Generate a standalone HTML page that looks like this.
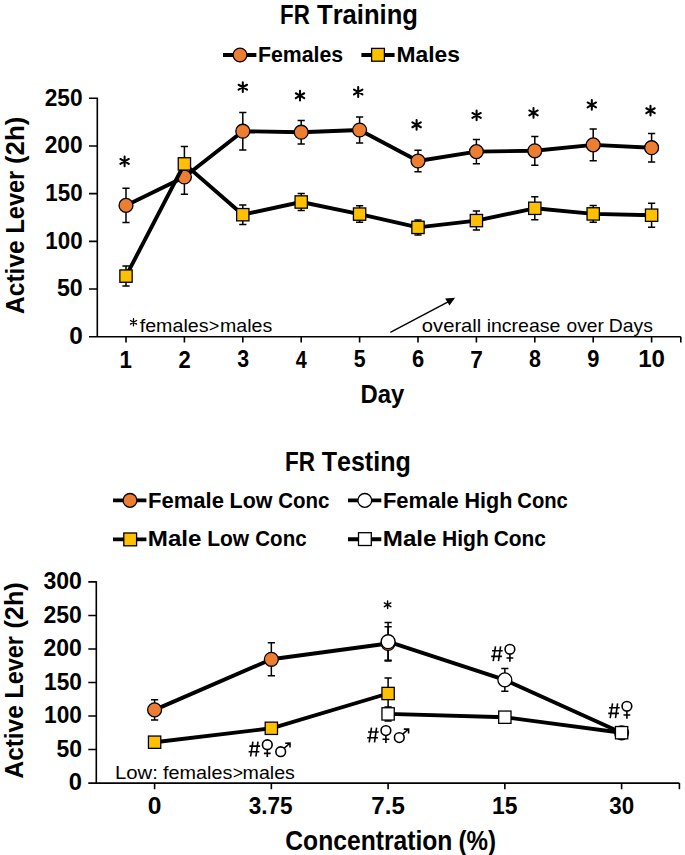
<!DOCTYPE html>
<html><head><meta charset="utf-8"><style>
html,body{margin:0;padding:0;background:#fff;}
body{width:685px;height:855px;overflow:hidden;}
svg{display:block;}
text{font-family:"Liberation Sans",sans-serif;font-size:100px;font-kerning:none;}
</style></head><body>
<svg width="685" height="855" viewBox="0 0 685 855">
<rect width="685" height="855" fill="#fff"/>
<text transform="matrix(0.2232 0 0 0.2704 280.11 24.00)" style="font-weight:bold" fill="#000">FR</text><text transform="matrix(0.2561 0 0 0.2704 317.01 24.00)" style="font-weight:bold" fill="#000">Training</text>
<path d="M223 55H256.4" stroke="#000" stroke-width="3.9"/>
<circle cx="240.00" cy="55.00" r="6.90" fill="#ED7D31" stroke="#000" stroke-width="1.30"/>
<text transform="matrix(0.2131 0 0 0.2209 257.97 61.60)" style="font-weight:bold" fill="#000">Females</text>
<path d="M361.4 55H394.6" stroke="#000" stroke-width="3.9"/>
<rect x="371.60" y="48.40" width="12.80" height="12.80" fill="#FFC000" stroke="#000" stroke-width="1.30"/>
<text transform="matrix(0.2283 0 0 0.2209 396.47 61.60)" style="font-weight:bold" fill="#000">Males</text>
<text transform="translate(24.40 313.30) rotate(-90) matrix(0.2454 0 0 0.2660 -0.61 0)" style="font-weight:bold">Active</text><text transform="translate(24.40 232.00) rotate(-90) matrix(0.2355 0 0 0.2660 -1.58 0)" style="font-weight:bold">Lever</text><text transform="translate(24.40 162.80) rotate(-90) matrix(0.2585 0 0 0.2660 -1.29 0)" style="font-weight:bold">(2h)</text>
<path d="M97.30 97.55V336.70M89 336.7H680.8M89 336.70H97.30M89 289.02H97.30M89 241.34H97.30M89 193.66H97.30M89 145.98H97.30M89 98.30H97.30M126.00 336.7V342.6M184.40 336.7V342.6M242.80 336.7V342.6M301.20 336.7V342.6M359.60 336.7V342.6M418.00 336.7V342.6M476.40 336.7V342.6M534.80 336.7V342.6M593.20 336.7V342.6M651.60 336.7V342.6M680.8 336.7V342.6" stroke="#000" stroke-width="1.6" fill="none"/>
<text transform="matrix(0.2439 0 0 0.2458 69.14 343.96)" style="font-weight:bold" fill="#000">0</text>
<text transform="matrix(0.2316 0 0 0.2458 56.89 296.28)" style="font-weight:bold" fill="#000">50</text>
<text transform="matrix(0.2237 0 0 0.2458 45.29 248.60)" style="font-weight:bold" fill="#000">100</text>
<text transform="matrix(0.2237 0 0 0.2458 45.29 200.92)" style="font-weight:bold" fill="#000">150</text>
<text transform="matrix(0.2273 0 0 0.2458 44.71 153.24)" style="font-weight:bold" fill="#000">200</text>
<text transform="matrix(0.2273 0 0 0.2458 44.71 105.56)" style="font-weight:bold" fill="#000">250</text>
<text transform="matrix(0.2235 0 0 0.2471 119.59 367.60)" style="font-weight:bold" fill="#000">1</text>
<text transform="matrix(0.2202 0 0 0.2435 178.54 367.60)" style="font-weight:bold" fill="#000">2</text>
<text transform="matrix(0.2132 0 0 0.2396 237.21 367.33)" style="font-weight:bold" fill="#000">3</text>
<text transform="matrix(0.1979 0 0 0.2471 295.80 367.60)" style="font-weight:bold" fill="#000">4</text>
<text transform="matrix(0.2130 0 0 0.2436 353.84 367.36)" style="font-weight:bold" fill="#000">5</text>
<text transform="matrix(0.2193 0 0 0.2401 412.10 367.37)" style="font-weight:bold" fill="#000">6</text>
<text transform="matrix(0.2259 0 0 0.2471 470.33 367.60)" style="font-weight:bold" fill="#000">7</text>
<text transform="matrix(0.2147 0 0 0.2401 529.02 367.37)" style="font-weight:bold" fill="#000">8</text>
<text transform="matrix(0.2188 0 0 0.2401 587.34 367.37)" style="font-weight:bold" fill="#000">9</text>
<text transform="matrix(0.2410 0 0 0.2401 638.13 367.37)" style="font-weight:bold" fill="#000">10</text>
<text transform="matrix(0.2389 0 0 0.2587 360.50 402.90)" style="font-weight:bold" fill="#000">Day</text>
<path d="M133.50 318.75L133.50 325.85M130.43 320.53L136.57 324.07M130.43 324.07L136.57 320.53" stroke="#000" stroke-width="1.30" stroke-linecap="round" fill="none"/>
<text transform="matrix(0.1965 0 0 0.1890 139.72 332.40)" style="font-weight:normal" fill="#000">females</text><text transform="matrix(0.1811 0 0 0.1890 208.71 332.40)" style="font-weight:normal" fill="#000">&gt;</text><text transform="matrix(0.1957 0 0 0.1890 220.00 332.40)" style="font-weight:normal" fill="#000">males</text>
<text transform="matrix(0.2020 0 0 0.1875 421.85 332.00)" style="font-weight:normal" fill="#000">overall</text><text transform="matrix(0.1952 0 0 0.1875 486.69 332.00)" style="font-weight:normal" fill="#000">increase</text><text transform="matrix(0.1919 0 0 0.1875 566.49 332.00)" style="font-weight:normal" fill="#000">over</text><text transform="matrix(0.1940 0 0 0.1875 608.81 332.00)" style="font-weight:normal" fill="#000">Days</text>
<path d="M390.3 332.3L450 300.8" stroke="#000" stroke-width="1.4"/>
<path d="M455.1 297.8L445.1 298.4L449.5 305.5Z" fill="#000"/>
<path d="M126.00 188.30L126.00 222.50M122.40 188.30L129.60 188.30M122.40 222.50L129.60 222.50" stroke="#000" stroke-width="1.50" fill="none"/>
<path d="M184.40 159.80L184.40 194.20M180.80 159.80L188.00 159.80M180.80 194.20L188.00 194.20" stroke="#000" stroke-width="1.50" fill="none"/>
<path d="M242.80 112.40L242.80 150.00M239.20 112.40L246.40 112.40M239.20 150.00L246.40 150.00" stroke="#000" stroke-width="1.50" fill="none"/>
<path d="M301.20 120.40L301.20 144.00M297.60 120.40L304.80 120.40M297.60 144.00L304.80 144.00" stroke="#000" stroke-width="1.50" fill="none"/>
<path d="M359.60 117.10L359.60 142.90M356.00 117.10L363.20 117.10M356.00 142.90L363.20 142.90" stroke="#000" stroke-width="1.50" fill="none"/>
<path d="M418.00 150.30L418.00 171.70M414.40 150.30L421.60 150.30M414.40 171.70L421.60 171.70" stroke="#000" stroke-width="1.50" fill="none"/>
<path d="M476.40 139.50L476.40 163.70M472.80 139.50L480.00 139.50M472.80 163.70L480.00 163.70" stroke="#000" stroke-width="1.50" fill="none"/>
<path d="M534.80 136.40L534.80 165.20M531.20 136.40L538.40 136.40M531.20 165.20L538.40 165.20" stroke="#000" stroke-width="1.50" fill="none"/>
<path d="M593.20 129.05L593.20 160.75M589.60 129.05L596.80 129.05M589.60 160.75L596.80 160.75" stroke="#000" stroke-width="1.50" fill="none"/>
<path d="M651.60 133.50L651.60 161.90M648.00 133.50L655.20 133.50M648.00 161.90L655.20 161.90" stroke="#000" stroke-width="1.50" fill="none"/>
<path d="M126.00 266.10L126.00 286.10M122.40 266.10L129.60 266.10M122.40 286.10L129.60 286.10" stroke="#000" stroke-width="1.50" fill="none"/>
<path d="M184.40 146.50L184.40 181.30M180.80 146.50L188.00 146.50M180.80 181.30L188.00 181.30" stroke="#000" stroke-width="1.50" fill="none"/>
<path d="M242.80 204.95L242.80 224.45M239.20 204.95L246.40 204.95M239.20 224.45L246.40 224.45" stroke="#000" stroke-width="1.50" fill="none"/>
<path d="M301.20 193.45L301.20 210.55M297.60 193.45L304.80 193.45M297.60 210.55L304.80 210.55" stroke="#000" stroke-width="1.50" fill="none"/>
<path d="M359.60 205.85L359.60 222.35M356.00 205.85L363.20 205.85M356.00 222.35L363.20 222.35" stroke="#000" stroke-width="1.50" fill="none"/>
<path d="M418.00 219.90L418.00 234.90M414.40 219.90L421.60 219.90M414.40 234.90L421.60 234.90" stroke="#000" stroke-width="1.50" fill="none"/>
<path d="M476.40 211.10L476.40 230.10M472.80 211.10L480.00 211.10M472.80 230.10L480.00 230.10" stroke="#000" stroke-width="1.50" fill="none"/>
<path d="M534.80 196.80L534.80 219.80M531.20 196.80L538.40 196.80M531.20 219.80L538.40 219.80" stroke="#000" stroke-width="1.50" fill="none"/>
<path d="M593.20 205.50L593.20 222.30M589.60 205.50L596.80 205.50M589.60 222.30L596.80 222.30" stroke="#000" stroke-width="1.50" fill="none"/>
<path d="M651.60 203.20L651.60 227.20M648.00 203.20L655.20 203.20M648.00 227.20L655.20 227.20" stroke="#000" stroke-width="1.50" fill="none"/>
<polyline points="126.00,205.40 184.40,177.00 242.80,131.20 301.20,132.20 359.60,130.00 418.00,161.00 476.40,151.60 534.80,150.80 593.20,144.90 651.60,147.70" fill="none" stroke="#000" stroke-width="3.90" stroke-linejoin="round"/>
<circle cx="126.00" cy="205.40" r="6.95" fill="#ED7D31" stroke="#000" stroke-width="1.30"/>
<circle cx="184.40" cy="177.00" r="6.95" fill="#ED7D31" stroke="#000" stroke-width="1.30"/>
<circle cx="242.80" cy="131.20" r="6.95" fill="#ED7D31" stroke="#000" stroke-width="1.30"/>
<circle cx="301.20" cy="132.20" r="6.95" fill="#ED7D31" stroke="#000" stroke-width="1.30"/>
<circle cx="359.60" cy="130.00" r="6.95" fill="#ED7D31" stroke="#000" stroke-width="1.30"/>
<circle cx="418.00" cy="161.00" r="6.95" fill="#ED7D31" stroke="#000" stroke-width="1.30"/>
<circle cx="476.40" cy="151.60" r="6.95" fill="#ED7D31" stroke="#000" stroke-width="1.30"/>
<circle cx="534.80" cy="150.80" r="6.95" fill="#ED7D31" stroke="#000" stroke-width="1.30"/>
<circle cx="593.20" cy="144.90" r="6.95" fill="#ED7D31" stroke="#000" stroke-width="1.30"/>
<circle cx="651.60" cy="147.70" r="6.95" fill="#ED7D31" stroke="#000" stroke-width="1.30"/>
<polyline points="126.00,276.10 184.40,163.90 242.80,214.70 301.20,202.00 359.60,214.10 418.00,227.40 476.40,220.60 534.80,208.30 593.20,213.90 651.60,215.20" fill="none" stroke="#000" stroke-width="3.90" stroke-linejoin="round"/>
<rect x="119.85" y="269.95" width="12.30" height="12.30" fill="#FFC000" stroke="#000" stroke-width="1.30"/>
<rect x="178.25" y="157.75" width="12.30" height="12.30" fill="#FFC000" stroke="#000" stroke-width="1.30"/>
<rect x="236.65" y="208.55" width="12.30" height="12.30" fill="#FFC000" stroke="#000" stroke-width="1.30"/>
<rect x="295.05" y="195.85" width="12.30" height="12.30" fill="#FFC000" stroke="#000" stroke-width="1.30"/>
<rect x="353.45" y="207.95" width="12.30" height="12.30" fill="#FFC000" stroke="#000" stroke-width="1.30"/>
<rect x="411.85" y="221.25" width="12.30" height="12.30" fill="#FFC000" stroke="#000" stroke-width="1.30"/>
<rect x="470.25" y="214.45" width="12.30" height="12.30" fill="#FFC000" stroke="#000" stroke-width="1.30"/>
<rect x="528.65" y="202.15" width="12.30" height="12.30" fill="#FFC000" stroke="#000" stroke-width="1.30"/>
<rect x="587.05" y="207.75" width="12.30" height="12.30" fill="#FFC000" stroke="#000" stroke-width="1.30"/>
<rect x="645.45" y="209.05" width="12.30" height="12.30" fill="#FFC000" stroke="#000" stroke-width="1.30"/>
<path d="M124.60 156.53L124.60 166.28M120.38 158.96L128.82 163.84M120.38 163.84L128.82 158.96" stroke="#000" stroke-width="2.05" stroke-linecap="round" fill="none"/>
<path d="M242.80 82.33L242.80 92.08M238.58 84.76L247.02 89.64M238.58 89.64L247.02 84.76" stroke="#000" stroke-width="2.05" stroke-linecap="round" fill="none"/>
<path d="M300.00 90.83L300.00 100.58M295.78 93.26L304.22 98.14M295.78 98.14L304.22 93.26" stroke="#000" stroke-width="2.05" stroke-linecap="round" fill="none"/>
<path d="M358.20 87.12L358.20 96.88M353.98 89.56L362.42 94.44M353.98 94.44L362.42 89.56" stroke="#000" stroke-width="2.05" stroke-linecap="round" fill="none"/>
<path d="M416.60 119.92L416.60 129.68M412.38 122.36L420.82 127.24M412.38 127.24L420.82 122.36" stroke="#000" stroke-width="2.05" stroke-linecap="round" fill="none"/>
<path d="M476.60 110.53L476.60 120.28M472.38 112.96L480.82 117.84M472.38 117.84L480.82 112.96" stroke="#000" stroke-width="2.05" stroke-linecap="round" fill="none"/>
<path d="M533.50 108.03L533.50 117.78M529.28 110.46L537.72 115.34M529.28 115.34L537.72 110.46" stroke="#000" stroke-width="2.05" stroke-linecap="round" fill="none"/>
<path d="M591.80 100.03L591.80 109.78M587.58 102.46L596.02 107.34M587.58 107.34L596.02 102.46" stroke="#000" stroke-width="2.05" stroke-linecap="round" fill="none"/>
<path d="M650.50 105.83L650.50 115.58M646.28 108.26L654.72 113.14M646.28 113.14L654.72 108.26" stroke="#000" stroke-width="2.05" stroke-linecap="round" fill="none"/>
<text transform="matrix(0.2248 0 0 0.2674 285.00 470.50)" style="font-weight:bold" fill="#000">FR</text><text transform="matrix(0.2505 0 0 0.2674 321.72 470.50)" style="font-weight:bold" fill="#000">Testing</text>
<path d="M113 500.4H146.4M348 500.4H381.3M113 539.4H146.4M348 539.2H381.3" stroke="#000" stroke-width="3.9"/>
<circle cx="130.00" cy="500.40" r="6.90" fill="#ED7D31" stroke="#000" stroke-width="1.30"/>
<circle cx="364.80" cy="500.40" r="6.90" fill="#fff" stroke="#000" stroke-width="1.30"/>
<rect x="123.80" y="533.00" width="12.80" height="12.80" fill="#FFC000" stroke="#000" stroke-width="1.30"/>
<rect x="358.50" y="532.70" width="12.80" height="12.80" fill="#fff" stroke="#000" stroke-width="1.30"/>
<text transform="matrix(0.2206 0 0 0.2195 147.92 507.50)" style="font-weight:bold" fill="#000">Female</text><text transform="matrix(0.2145 0 0 0.2195 229.56 507.50)" style="font-weight:bold" fill="#000">Low</text><text transform="matrix(0.2054 0 0 0.2195 278.16 507.50)" style="font-weight:bold" fill="#000">Conc</text>
<text transform="matrix(0.2200 0 0 0.2195 382.93 507.60)" style="font-weight:bold" fill="#000">Female</text><text transform="matrix(0.2155 0 0 0.2195 464.56 507.60)" style="font-weight:bold" fill="#000">High</text><text transform="matrix(0.2025 0 0 0.2195 517.27 507.60)" style="font-weight:bold" fill="#000">Conc</text>
<text transform="matrix(0.2417 0 0 0.2195 147.78 545.90)" style="font-weight:bold" fill="#000">Male</text><text transform="matrix(0.2099 0 0 0.2195 207.20 545.90)" style="font-weight:bold" fill="#000">Low</text><text transform="matrix(0.2054 0 0 0.2195 255.26 545.90)" style="font-weight:bold" fill="#000">Conc</text>
<text transform="matrix(0.2417 0 0 0.2195 382.78 545.80)" style="font-weight:bold" fill="#000">Male</text><text transform="matrix(0.2112 0 0 0.2195 441.99 545.80)" style="font-weight:bold" fill="#000">High</text><text transform="matrix(0.2091 0 0 0.2195 493.74 545.80)" style="font-weight:bold" fill="#000">Conc</text>
<text transform="translate(23.10 777.80) rotate(-90) matrix(0.2437 0 0 0.2660 -0.61 0)" style="font-weight:bold">Active</text><text transform="translate(23.10 696.90) rotate(-90) matrix(0.2339 0 0 0.2660 -1.56 0)" style="font-weight:bold">Lever</text><text transform="translate(23.10 627.30) rotate(-90) matrix(0.2527 0 0 0.2660 -1.26 0)" style="font-weight:bold">(2h)</text>
<path d="M96.30 581.15V783.10M88.3 783.1H679.4M88.3 783.10H96.30M88.3 749.57H96.30M88.3 716.03H96.30M88.3 682.50H96.30M88.3 648.97H96.30M88.3 615.43H96.30M88.3 581.90H96.30M154.60 783.1V789.2M271.35 783.1V789.2M388.10 783.1V789.2M504.85 783.1V789.2M621.60 783.1V789.2M679.4 783.1V789.2" stroke="#000" stroke-width="1.6" fill="none"/>
<text transform="matrix(0.2376 0 0 0.2458 68.76 790.31)" style="font-weight:bold" fill="#000">0</text>
<text transform="matrix(0.2297 0 0 0.2458 56.39 756.78)" style="font-weight:bold" fill="#000">50</text>
<text transform="matrix(0.2269 0 0 0.2458 44.07 723.24)" style="font-weight:bold" fill="#000">100</text>
<text transform="matrix(0.2269 0 0 0.2458 44.07 689.71)" style="font-weight:bold" fill="#000">150</text>
<text transform="matrix(0.2304 0 0 0.2458 43.50 656.18)" style="font-weight:bold" fill="#000">200</text>
<text transform="matrix(0.2304 0 0 0.2458 43.50 622.64)" style="font-weight:bold" fill="#000">250</text>
<text transform="matrix(0.2306 0 0 0.2453 43.47 589.07)" style="font-weight:bold" fill="#000">300</text>
<text transform="matrix(0.2460 0 0 0.2401 147.73 814.17)" style="font-weight:bold" fill="#000">0</text>
<text transform="matrix(0.2253 0 0 0.2396 248.68 814.13)" style="font-weight:bold" fill="#000">3.75</text>
<text transform="matrix(0.2410 0 0 0.2436 371.36 814.16)" style="font-weight:bold" fill="#000">7.5</text>
<text transform="matrix(0.2291 0 0 0.2436 492.06 814.16)" style="font-weight:bold" fill="#000">15</text>
<text transform="matrix(0.2232 0 0 0.2396 609.29 814.13)" style="font-weight:bold" fill="#000">30</text>
<text transform="matrix(0.2466 0 0 0.2674 285.29 850.00)" style="font-weight:bold" fill="#000">Concentration</text><text transform="matrix(0.2418 0 0 0.2674 458.50 850.00)" style="font-weight:bold" fill="#000">(%)</text>
<text transform="matrix(0.2032 0 0 0.1890 115.03 778.90)" style="font-weight:normal" fill="#000">Low:</text><text transform="matrix(0.1979 0 0 0.1890 163.12 778.90)" style="font-weight:normal" fill="#000">females</text><text transform="matrix(0.1770 0 0 0.1890 232.63 778.90)" style="font-weight:normal" fill="#000">&gt;</text><text transform="matrix(0.1961 0 0 0.1890 242.60 778.90)" style="font-weight:normal" fill="#000">males</text>
<path d="M154.60 699.70L154.60 720.10M151.00 699.70L158.20 699.70M151.00 720.10L158.20 720.10" stroke="#000" stroke-width="1.50" fill="none"/>
<path d="M271.35 642.80L271.35 675.80M267.75 642.80L274.95 642.80M267.75 675.80L274.95 675.80" stroke="#000" stroke-width="1.50" fill="none"/>
<path d="M388.10 626.80L388.10 660.20M384.50 626.80L391.70 626.80M384.50 660.20L391.70 660.20" stroke="#000" stroke-width="1.50" fill="none"/>
<path d="M388.10 622.50L388.10 660.90M384.50 622.50L391.70 622.50M384.50 660.90L391.70 660.90" stroke="#000" stroke-width="1.50" fill="none"/>
<path d="M504.85 668.50L504.85 691.30M501.25 668.50L508.45 668.50M501.25 691.30L508.45 691.30" stroke="#000" stroke-width="1.50" fill="none"/>
<path d="M621.60 729.80L621.60 735.80M618.00 729.80L625.20 729.80M618.00 735.80L625.20 735.80" stroke="#000" stroke-width="1.50" fill="none"/>
<path d="M154.60 738.20L154.60 746.20M151.00 738.20L158.20 738.20M151.00 746.20L158.20 746.20" stroke="#000" stroke-width="1.50" fill="none"/>
<path d="M271.35 724.30L271.35 732.30M267.75 724.30L274.95 724.30M267.75 732.30L274.95 732.30" stroke="#000" stroke-width="1.50" fill="none"/>
<path d="M388.10 677.90L388.10 709.10M384.50 677.90L391.70 677.90M384.50 709.10L391.70 709.10" stroke="#000" stroke-width="1.50" fill="none"/>
<path d="M388.10 706.90L388.10 720.90M384.50 706.90L391.70 706.90M384.50 720.90L391.70 720.90" stroke="#000" stroke-width="1.50" fill="none"/>
<path d="M504.85 714.20L504.85 720.20M501.25 714.20L508.45 714.20M501.25 720.20L508.45 720.20" stroke="#000" stroke-width="1.50" fill="none"/>
<path d="M621.60 729.70L621.60 735.70M618.00 729.70L625.20 729.70M618.00 735.70L625.20 735.70" stroke="#000" stroke-width="1.50" fill="none"/>
<polyline points="154.60,709.90 271.35,659.30 388.10,643.50" fill="none" stroke="#000" stroke-width="3.90" stroke-linejoin="round"/>
<circle cx="154.60" cy="709.90" r="6.95" fill="#ED7D31" stroke="#000" stroke-width="1.30"/>
<circle cx="271.35" cy="659.30" r="6.95" fill="#ED7D31" stroke="#000" stroke-width="1.30"/>
<circle cx="388.10" cy="643.50" r="6.95" fill="#ED7D31" stroke="#000" stroke-width="1.30"/>
<polyline points="388.10,641.70 504.85,679.90 621.60,732.80" fill="none" stroke="#000" stroke-width="3.90" stroke-linejoin="round"/>
<circle cx="388.10" cy="641.70" r="6.95" fill="#fff" stroke="#000" stroke-width="1.30"/>
<circle cx="504.85" cy="679.90" r="6.95" fill="#fff" stroke="#000" stroke-width="1.30"/>
<circle cx="621.60" cy="732.80" r="6.95" fill="#fff" stroke="#000" stroke-width="1.30"/>
<polyline points="154.60,742.20 271.35,728.30 388.10,693.50" fill="none" stroke="#000" stroke-width="3.90" stroke-linejoin="round"/>
<rect x="148.45" y="736.05" width="12.30" height="12.30" fill="#FFC000" stroke="#000" stroke-width="1.30"/>
<rect x="265.20" y="722.15" width="12.30" height="12.30" fill="#FFC000" stroke="#000" stroke-width="1.30"/>
<rect x="381.95" y="687.35" width="12.30" height="12.30" fill="#FFC000" stroke="#000" stroke-width="1.30"/>
<polyline points="388.10,713.90 504.85,717.20 621.60,732.70" fill="none" stroke="#000" stroke-width="3.90" stroke-linejoin="round"/>
<rect x="381.95" y="707.75" width="12.30" height="12.30" fill="#fff" stroke="#000" stroke-width="1.30"/>
<rect x="498.70" y="711.05" width="12.30" height="12.30" fill="#fff" stroke="#000" stroke-width="1.30"/>
<rect x="615.45" y="726.55" width="12.30" height="12.30" fill="#fff" stroke="#000" stroke-width="1.30"/>
<path d="M387.60 601.07L387.60 608.52M384.37 602.94L390.83 606.66M384.37 606.66L390.83 602.94" stroke="#000" stroke-width="1.45" stroke-linecap="round" fill="none"/>
<path d="M252.90 741.70L250.60 756.50M258.00 741.70L255.90 756.50M249.40 746.10L260.10 746.10M248.60 751.80L259.30 751.80M267.30 749.55L267.30 757.10M263.90 753.40L270.70 753.40" stroke="#000" stroke-width="1.60" fill="none"/><circle cx="267.30" cy="744.70" r="4.85" stroke="#000" stroke-width="1.60" fill="none"/><circle cx="280.70" cy="751.70" r="4.85" stroke="#000" stroke-width="1.60" fill="none"/><path d="M284.13 748.27L290.00 743.10M285.20 743.20L290.00 743.10L290.00 747.50" stroke="#000" stroke-width="1.60" fill="none"/>
<path d="M371.50 727.60L369.20 742.40M376.60 727.60L374.50 742.40M368.00 732.00L378.70 732.00M367.20 737.70L377.90 737.70M385.90 735.45L385.90 743.00M382.50 739.30L389.30 739.30" stroke="#000" stroke-width="1.60" fill="none"/><circle cx="385.90" cy="730.60" r="4.85" stroke="#000" stroke-width="1.60" fill="none"/><circle cx="399.30" cy="737.60" r="4.85" stroke="#000" stroke-width="1.60" fill="none"/><path d="M402.73 734.17L408.60 729.00M403.80 729.10L408.60 729.00L408.60 733.40" stroke="#000" stroke-width="1.60" fill="none"/>
<path d="M495.50 646.30L493.20 661.10M500.60 646.30L498.50 661.10M492.00 650.70L502.70 650.70M491.20 656.40L501.90 656.40M509.90 654.15L509.90 661.70M506.50 658.00L513.30 658.00" stroke="#000" stroke-width="1.60" fill="none"/><circle cx="509.90" cy="649.30" r="4.85" stroke="#000" stroke-width="1.60" fill="none"/>
<path d="M612.50 703.30L610.20 718.10M617.60 703.30L615.50 718.10M609.00 707.70L619.70 707.70M608.20 713.40L618.90 713.40M626.90 711.15L626.90 718.70M623.50 715.00L630.30 715.00" stroke="#000" stroke-width="1.60" fill="none"/><circle cx="626.90" cy="706.30" r="4.85" stroke="#000" stroke-width="1.60" fill="none"/>
</svg>
</body></html>
